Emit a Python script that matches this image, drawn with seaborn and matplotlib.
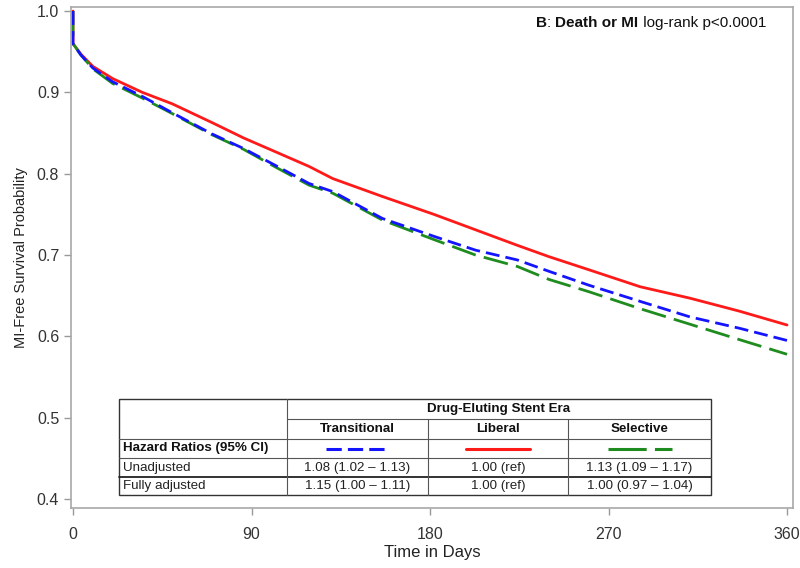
import numpy as np
import pandas as pd
import seaborn as sns
import matplotlib
matplotlib.use("Agg")
import matplotlib.pyplot as plt
from matplotlib.lines import Line2D
from matplotlib.patches import Rectangle

# ---------------- data ----------------
days = [0, 0, 4, 10, 20, 35, 50, 70, 86, 103, 119, 131, 156, 182, 203, 224, 240, 260, 286, 311, 336, 360]
transitional = [1.0, 0.960, 0.946, 0.930, 0.913, 0.895, 0.875, 0.849, 0.831, 0.809, 0.788, 0.778,
                0.745, 0.723, 0.706, 0.694, 0.680, 0.663, 0.643, 0.624, 0.610, 0.595]
liberal = [1.0, 0.960, 0.947, 0.932, 0.917, 0.900, 0.886, 0.863, 0.844, 0.826, 0.809, 0.794,
           0.772, 0.750, 0.731, 0.712, 0.698, 0.682, 0.661, 0.647, 0.631, 0.614]
selective = [1.0, 0.960, 0.946, 0.929, 0.911, 0.893, 0.874, 0.848, 0.830, 0.807, 0.786, 0.776,
             0.743, 0.719, 0.700, 0.686, 0.670, 0.655, 0.634, 0.615, 0.596, 0.578]

eras = ["Transitional", "Liberal", "Selective"]
unadjusted = ["1.08 (1.02 \u2013 1.13)", "1.00 (ref)", "1.13 (1.09 \u2013 1.17)"]
fully_adjusted = ["1.15 (1.00 \u2013 1.11)", "1.00 (ref)", "1.00 (0.97 \u2013 1.04)"]

x_ticks = [0, 90, 180, 270, 360]
y_ticks = [0.4, 0.5, 0.6, 0.7, 0.8, 0.9, 1.0]

colors = {"Transitional": "#1414ff", "Liberal": "#ff1a1a", "Selective": "#1e8c1e"}
dashes = {"Transitional": (5, 2.2), "Liberal": None, "Selective": (9, 3)}
table_dashes = {"Transitional": (5, 2.0), "Liberal": None, "Selective": (12.5, 2.7)}

# ---------------- figure ----------------
sns.set_theme(style="white")
plt.rcParams["font.family"] = ["Liberation Sans", "DejaVu Sans"]

W, H = 800, 568
fig = plt.figure(figsize=(W / 100, H / 100), dpi=100)
ax = fig.add_axes([71 / W, 1 - 508 / H, (793 - 71) / W, (508 - 7) / H])

series = {"Transitional": transitional, "Liberal": liberal, "Selective": selective}
order = ["Liberal", "Selective", "Transitional"]
for name in order:
    d = pd.DataFrame({"Day": days, "Survival": series[name]})
    sns.lineplot(data=d, x="Day", y="Survival", ax=ax, estimator=None, sort=False,
                 color=colors[name], linewidth=2.0)
    if dashes[name] is not None:
        ax.lines[-1].set_dashes(dashes[name])

ax.set_xlim(-1.0, 363.0)
ax.set_ylim(0.389, 1.005)
ax.set_xticks(x_ticks)
ax.set_yticks(y_ticks)
ax.set_yticklabels([f"{v:.1f}" for v in y_ticks])
ax.set_xticklabels([str(v) for v in x_ticks], fontsize=11.5)
ax.set_xlabel("Time in Days", fontsize=12, color="#222222", labelpad=2)
ax.set_ylabel("MI-Free Survival Probability", fontsize=10.5, color="#222222", labelpad=6)
ax.tick_params(axis="both", direction="out", length=5, width=1, color="#999999",
               labelcolor="#333333", bottom=True, left=True)
ax.tick_params(axis="y", labelsize=11.5)
ax.tick_params(axis="x", pad=9)
for s in ax.spines.values():
    s.set_color("#a8a8a8")
    s.set_linewidth(1.2)

# title text (mixed bold / normal)
tx = 536 / W
ty = 1 - 23 / H
parts = [("B", "bold"), (": ", "normal"), ("Death or MI", "bold"), (" log-rank p<0.0001", "normal")]
fig.canvas.draw()
renderer = fig.canvas.get_renderer()
cur = tx
for txt, wt in parts:
    t = fig.text(cur, ty, txt, fontsize=11, fontweight=wt, color="#111111", va="center", ha="left")
    bb = t.get_window_extent(renderer=renderer)
    cur += bb.width / W

# ---------------- table ----------------
def fx(x):
    return x / W

def fy(y):
    return 1 - y / H

L, C1, C2, C3, R = 119, 287, 428, 568, 711
rows = [399, 419, 439, 458, 477, 495]
fig.patches.append(Rectangle((fx(L), fy(rows[-1])), fx(R) - fx(L), fy(rows[0]) - fy(rows[-1]),
                             transform=fig.transFigure, facecolor="white", edgecolor="#333333",
                             linewidth=1.0, zorder=5))

def hline(y, x0, x1, lw=0.8, c="#555555"):
    fig.add_artist(Line2D([fx(x0), fx(x1)], [fy(y), fy(y)], transform=fig.transFigure,
                          color=c, linewidth=lw, zorder=6))

def vline(x, y0, y1, lw=0.8, c="#555555"):
    fig.add_artist(Line2D([fx(x), fx(x)], [fy(y0), fy(y1)], transform=fig.transFigure,
                          color=c, linewidth=lw, zorder=6))

hline(rows[1], C1, R)
hline(rows[2], L, R)
hline(rows[3], L, R)
hline(rows[4], L, R, lw=1.3, c="#222222")
vline(C1, rows[0], rows[-1])
vline(C2, rows[1], rows[-1])
vline(C3, rows[1], rows[-1])

def mid(i):
    return fy((rows[i] + rows[i + 1]) / 2)

fs = 9.6
tk = dict(zorder=7, va="center")
fig.text(fx((C1 + R) / 2), mid(0), "Drug-Eluting Stent Era", ha="center",
         fontsize=fs, fontweight="bold", color="#111111", **tk)
cols = [(C1 + C2) / 2, (C2 + C3) / 2, (C3 + R) / 2]
for cx, name in zip(cols, eras):
    fig.text(fx(cx), mid(1), name, ha="center", fontsize=fs, fontweight="bold",
             color="#111111", **tk)
fig.text(fx(L + 4), mid(2), "Hazard Ratios (95% CI)", ha="left", fontsize=fs,
         fontweight="bold", color="#111111", **tk)
fig.text(fx(L + 4), mid(3), "Unadjusted", ha="left", fontsize=fs, color="#222222", **tk)
fig.text(fx(L + 4), mid(4), "Fully adjusted", ha="left", fontsize=fs, color="#222222", **tk)
for cx, u, f in zip(cols, unadjusted, fully_adjusted):
    fig.text(fx(cx), mid(3), u, ha="center", fontsize=fs, color="#222222", **tk)
    fig.text(fx(cx), mid(4), f, ha="center", fontsize=fs, color="#222222", **tk)

# legend samples
half = 32
for cx, name in zip(cols, eras):
    ln = Line2D([fx(cx - half), fx(cx + half)], [mid(2), mid(2)], transform=fig.transFigure,
                color=colors[name], linewidth=2.2, zorder=7)
    if table_dashes[name] is not None:
        ln.set_dashes(table_dashes[name])
    fig.add_artist(ln)

fig.savefig("out.png", dpi=100)
